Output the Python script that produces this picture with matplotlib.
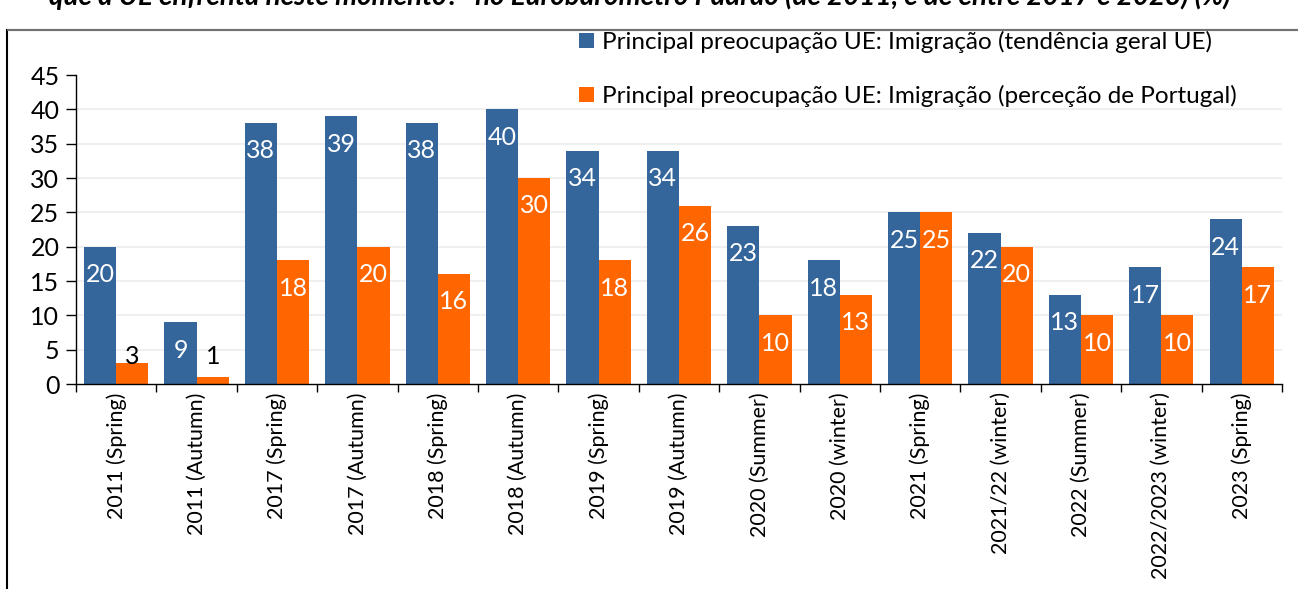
import numpy as np
import matplotlib.pyplot as plt
from matplotlib.patches import Rectangle

plt.rcParams['font.family'] = ['Lato', 'DejaVu Sans']

# dados
categorias = ['2011 (Spring)', '2011 (Autumn)', '2017 (Spring)', '2017 (Autumn)',
              '2018 (Spring)', '2018 (Autumn)', '2019 (Spring)', '2019 (Autumn)',
              '2020 (Summer)', '2020 (winter)', '2021 (Spring)', '2021/22 (winter)',
              '2022 (Summer)', '2022/2023 (winter)', '2023 (Spring)']
ue = [20, 9, 38, 39, 38, 40, 34, 34, 23, 18, 25, 22, 13, 17, 24]
portugal = [3, 1, 18, 20, 16, 30, 18, 26, 10, 13, 25, 20, 10, 10, 17]
legenda = ['Principal preocupação UE: Imigração (tendência geral UE)',
           'Principal preocupação UE: Imigração (perceção de Portugal)']
titulo = ('que a UE enfrenta neste momento?" no Eurobarómetro Padrão '
          '(de 2011, e de entre 2017 e 2023) (%)')

azul = '#34659b'
laranja = '#ff6600'

fig = plt.figure(figsize=(12.98, 5.89), dpi=100)
ax = fig.add_axes([0.0586, 0.348, 0.929, 0.5246])

x = np.arange(len(categorias))
w = 0.4
b1 = ax.bar(x - w/2, ue, w, color=azul, label=legenda[0], zorder=2)
b2 = ax.bar(x + w/2, portugal, w, color=laranja, label=legenda[1], zorder=2)

# rótulos dos valores
for bars, vals in ((b1, ue), (b2, portugal)):
    for r, v in zip(bars, vals):
        cx = r.get_x() + r.get_width()/2
        if v >= 5:
            ax.annotate(str(v), (cx, v), xytext=(0, -20), textcoords='offset points',
                        ha='center', va='center', color='white', fontsize=18, zorder=3)
        else:
            ax.annotate(str(v), (cx, 0), xytext=(0, 19.5), textcoords='offset points',
                        ha='center', va='center', color='black', fontsize=18, zorder=3)

ax.set_xlim(-0.5, len(categorias) - 0.5)
ax.set_ylim(0, 45)
ax.set_yticks(np.arange(0, 46, 5))
ax.set_xticks(x)
ax.set_xticklabels(categorias, rotation=90, fontsize=15.5)
ax.set_xticks(np.arange(-0.5, len(categorias)), minor=True)
ax.tick_params(axis='x', which='major', length=0, pad=6)
ax.tick_params(axis='x', which='minor', length=6, width=1, direction='out')
ax.tick_params(axis='y', labelsize=18, length=7, width=1, direction='out', pad=5)

for g in np.arange(5, 41, 5):
    ax.axhline(g, color='#ececec', lw=1.2, zorder=0)

for s in ['top', 'right']:
    ax.spines[s].set_visible(False)
ax.spines['left'].set_linewidth(1)
ax.spines['bottom'].set_linewidth(1)
ax.spines['bottom'].set_zorder(4)

fig.legend(loc='upper left', bbox_to_anchor=(0.437, 0.968), frameon=False,
           fontsize=17.5, handlelength=0.6, handleheight=0.6, handletextpad=0.35,
           labelspacing=1.3, borderpad=0)

# moldura e título cortado
fig.patches.append(Rectangle((7/1298, -0.1), 1.2, 1 - 30/589 + 0.1,
                             transform=fig.transFigure, fill=False,
                             edgecolor='black', lw=1.5))
fig.add_artist(plt.Line2D([8/1298, 1], [1 - 30/589]*2, transform=fig.transFigure,
                          color='#888888', lw=1.2))
fig.text(0.493, 1 - 5/589, titulo, ha='center', va='baseline', fontsize=20,
         fontweight='bold', fontstyle='italic')

fig.savefig('out.png', dpi=100)
